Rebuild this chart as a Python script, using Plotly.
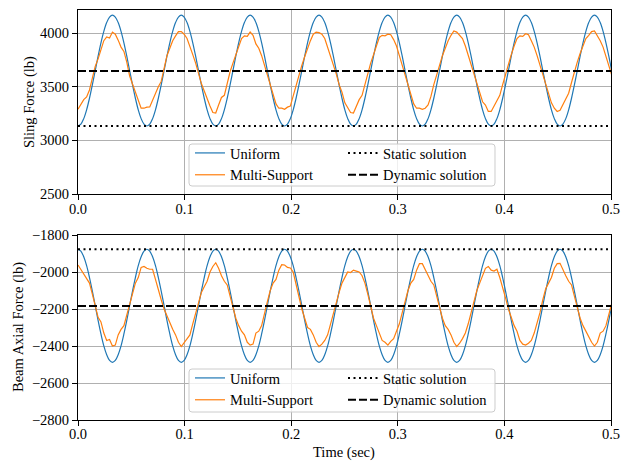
import plotly.graph_objects as go

# ---------------- data ----------------
sample_interval = 0.00269167          # sec between samples (24 samples per 0.0646 s cycle)
time_range = [0.0, 0.5]

static_sling = 3134
dynamic_sling = 3646
static_axial = -1877
dynamic_axial = -2184

sling_uniform = [
    3134, 3152, 3203, 3285, 3393, 3517, 3651, 3785, 3910, 4017, 4099, 4150, 4168, 4150, 4099, 4017, 3910, 3785, 3651, 3517, 3393, 3285, 3203, 3152,
    3134, 3152, 3203, 3285, 3393, 3517, 3651, 3785, 3910, 4017, 4099, 4150, 4168, 4150, 4099, 4017, 3910, 3785, 3651, 3517, 3393, 3285, 3203, 3152,
    3134, 3152, 3203, 3285, 3393, 3517, 3651, 3785, 3910, 4017, 4099, 4150, 4168, 4150, 4099, 4017, 3910, 3785, 3651, 3517, 3393, 3285, 3203, 3152,
    3134, 3152, 3203, 3285, 3393, 3517, 3651, 3785, 3910, 4017, 4099, 4150, 4168, 4150, 4099, 4017, 3910, 3785, 3651, 3517, 3393, 3285, 3203, 3152,
    3134, 3152, 3203, 3285, 3393, 3517, 3651, 3785, 3910, 4017, 4099, 4150, 4168, 4150, 4099, 4017, 3910, 3785, 3651, 3517, 3393, 3285, 3203, 3152,
    3134, 3152, 3203, 3285, 3393, 3517, 3651, 3785, 3910, 4017, 4099, 4150, 4168, 4150, 4099, 4017, 3910, 3785, 3651, 3517, 3393, 3285, 3203, 3152,
    3134, 3152, 3203, 3285, 3393, 3517, 3651, 3785, 3910, 4017, 4099, 4150, 4168, 4150, 4099, 4017, 3910, 3785, 3651, 3517, 3393, 3285, 3203, 3152,
    3134, 3152, 3203, 3285, 3393, 3517, 3651, 3785, 3910, 4017, 4099, 4150, 4168, 4150, 4099, 4017, 3910, 3785, 3651,
]

sling_multi = [
    3290, 3340, 3380, 3405, 3470, 3580, 3690, 3760, 3850, 3930, 3965, 3955, 4010, 3990, 3935, 3870, 3830, 3730, 3600, 3520, 3460, 3380, 3300, 3300,
    3310, 3312, 3380, 3450, 3500, 3550, 3680, 3790, 3860, 3930, 3975, 4015, 4015, 3990, 3950, 3880, 3800, 3720, 3620, 3530, 3460, 3380, 3320, 3260,
    3255, 3330, 3400, 3420, 3530, 3640, 3720, 3800, 3880, 3950, 3975, 3970, 4010, 3980, 3900, 3860, 3790, 3700, 3610, 3520, 3410, 3340, 3300, 3300,
    3290, 3310, 3320, 3420, 3520, 3620, 3700, 3780, 3860, 3930, 3990, 4010, 4005, 3990, 3950, 3870, 3780, 3700, 3620, 3520, 3450, 3350, 3300, 3260,
    3255, 3320, 3380, 3420, 3520, 3630, 3720, 3800, 3880, 3960, 3980, 3975, 3990, 3985, 3940, 3880, 3790, 3700, 3600, 3520, 3440, 3340, 3300, 3300,
    3290, 3300, 3330, 3410, 3520, 3620, 3700, 3790, 3870, 3930, 3980, 4020, 4010, 3980, 3950, 3880, 3790, 3700, 3620, 3520, 3440, 3360, 3330, 3270,
    3270, 3320, 3380, 3420, 3520, 3620, 3710, 3800, 3880, 3950, 3975, 3970, 3995, 3985, 3930, 3870, 3790, 3700, 3610, 3520, 3430, 3350, 3300, 3270,
    3280, 3330, 3380, 3440, 3540, 3640, 3730, 3810, 3880, 3950, 3980, 4015, 4020, 3980, 3930, 3870, 3790, 3690, 3610,
]

axial_uniform = [
    -1877, -1887, -1918, -1966, -2030, -2103, -2182, -2262, -2335, -2399, -2447, -2478, -2488, -2478, -2447, -2399, -2335, -2262, -2182, -2103, -2030, -1966, -1918, -1887,
    -1877, -1887, -1918, -1966, -2030, -2103, -2182, -2262, -2335, -2399, -2447, -2478, -2488, -2478, -2447, -2399, -2335, -2262, -2182, -2103, -2030, -1966, -1918, -1887,
    -1877, -1887, -1918, -1966, -2030, -2103, -2182, -2262, -2335, -2399, -2447, -2478, -2488, -2478, -2447, -2399, -2335, -2262, -2182, -2103, -2030, -1966, -1918, -1887,
    -1877, -1887, -1918, -1966, -2030, -2103, -2182, -2262, -2335, -2399, -2447, -2478, -2488, -2478, -2447, -2399, -2335, -2262, -2182, -2103, -2030, -1966, -1918, -1887,
    -1877, -1887, -1918, -1966, -2030, -2103, -2182, -2262, -2335, -2399, -2447, -2478, -2488, -2478, -2447, -2399, -2335, -2262, -2182, -2103, -2030, -1966, -1918, -1887,
    -1877, -1887, -1918, -1966, -2030, -2103, -2182, -2262, -2335, -2399, -2447, -2478, -2488, -2478, -2447, -2399, -2335, -2262, -2182, -2103, -2030, -1966, -1918, -1887,
    -1877, -1887, -1918, -1966, -2030, -2103, -2182, -2262, -2335, -2399, -2447, -2478, -2488, -2478, -2447, -2399, -2335, -2262, -2182, -2103, -2030, -1966, -1918, -1887,
    -1877, -1887, -1918, -1966, -2030, -2103, -2182, -2262, -2335, -2399, -2447, -2478, -2488, -2478, -2447, -2399, -2335, -2262, -2182,
]

axial_multi = [
    -1962, -1985, -2010, -2035, -2060, -2120, -2190, -2245, -2270, -2330, -2370, -2365, -2400, -2395, -2340, -2310, -2290, -2230, -2184, -2110, -2060, -2030, -1975, -1970,
    -1980, -1985, -1985, -2040, -2100, -2150, -2200, -2240, -2280, -2310, -2340, -2380, -2403, -2380, -2360, -2340, -2280, -2220, -2160, -2110, -2080, -2050, -2000, -1970,
    -1950, -1980, -2020, -2050, -2070, -2130, -2190, -2250, -2290, -2320, -2340, -2380, -2395, -2390, -2330, -2320, -2290, -2220, -2160, -2100, -2060, -2040, -1990, -1960,
    -1962, -1975, -1978, -2000, -2070, -2130, -2200, -2250, -2300, -2310, -2340, -2380, -2403, -2390, -2370, -2340, -2280, -2220, -2170, -2110, -2060, -2030, -2000, -2003,
    -1990, -1995, -2000, -2020, -2060, -2120, -2190, -2250, -2290, -2330, -2370, -2380, -2395, -2375, -2360, -2320, -2280, -2220, -2160, -2100, -2060, -2040, -1990, -1955,
    -1955, -1985, -2020, -2050, -2070, -2130, -2190, -2250, -2290, -2310, -2340, -2380, -2403, -2385, -2360, -2330, -2280, -2220, -2160, -2100, -2060, -2020, -1980, -1970,
    -1990, -1995, -1985, -2030, -2080, -2140, -2200, -2250, -2290, -2320, -2370, -2390, -2395, -2385, -2370, -2330, -2280, -2220, -2150, -2090, -2060, -2030, -1980, -1955,
    -1953, -1990, -2020, -2050, -2070, -2130, -2190, -2250, -2290, -2320, -2350, -2380, -2400, -2380, -2330, -2320, -2290, -2230, -2170,
]

x_ticks = [0.0, 0.1, 0.2, 0.3, 0.4, 0.5]
sling_ticks = [2500, 3000, 3500, 4000]
axial_ticks = [-2800, -2600, -2400, -2200, -2000, -1800]
sling_range = [2500, 4216]
axial_range = [-2800, -1800]

# ---------------- styling ----------------
W, H = 630, 470
ML, MR, MT, MB = 78, 19, 10, 50
PW, PH = W - ML - MR, H - MT - MB
BLUE, ORANGE = "#1f77b4", "#ff7f0e"
FONT = "Liberation Serif"
FS = 14.5


def px_to_paper(px, py):
    return (px - ML) / PW, (H - MB - py) / PH


def wave(y, color, name, xa, ya, legend, shape):
    return go.Scatter(x0=time_range[0], dx=sample_interval, y=y, mode="lines",
                      line=dict(color=color, width=1.2, shape=shape),
                      name=name, xaxis=xa, yaxis=ya, legend=legend)


def hline(val, dash, name, xa, ya, legend):
    return go.Scatter(x=time_range, y=[val, val], mode="lines",
                      line=dict(color="black", width=2, dash=dash),
                      name=name, xaxis=xa, yaxis=ya, legend=legend)


DOT = "2px,3.5px"
DASH = "8px,3px"

traces = [
    wave(sling_uniform, BLUE, "Uniform", "x", "y", "legend", "spline"),
    wave(sling_multi, ORANGE, "Multi-Support", "x", "y", "legend", "linear"),
    hline(static_sling, DOT, "Static solution", "x", "y", "legend2"),
    hline(dynamic_sling, DASH, "Dynamic solution", "x", "y", "legend2"),
    wave(axial_uniform, BLUE, "Uniform", "x2", "y2", "legend3", "spline"),
    wave(axial_multi, ORANGE, "Multi-Support", "x2", "y2", "legend3", "linear"),
    hline(static_axial, DOT, "Static solution", "x2", "y2", "legend4"),
    hline(dynamic_axial, DASH, "Dynamic solution", "x2", "y2", "legend4"),
]

fig = go.Figure(traces)

axis_common = dict(showline=True, linecolor="black", linewidth=1, mirror=True,
                   ticks="outside", ticklen=5, tickwidth=1, tickcolor="black",
                   showgrid=True, gridcolor="#b0b0b0", gridwidth=1, zeroline=False,
                   automargin=False,
                   tickfont=dict(family=FONT, size=FS, color="black"))

top_bottom_px = 194
bot_top_px = 235
top_domain = [(H - MB - top_bottom_px) / PH, 1.0]
bot_domain = [0.0, (H - MB - bot_top_px) / PH]

fig.update_layout(
    width=W, height=H, margin=dict(l=ML, r=MR, t=MT, b=MB, autoexpand=False),
    paper_bgcolor="white", plot_bgcolor="white",
    font=dict(family=FONT, size=FS, color="black"),
    xaxis=dict(domain=[0, 1], anchor="y", range=time_range, tickvals=x_ticks,
               tickformat=".1f", ticklabelstandoff=-3, **axis_common),
    yaxis=dict(domain=top_domain, anchor="x", range=sling_range, tickvals=sling_ticks,
               **axis_common),
    xaxis2=dict(domain=[0, 1], anchor="y2", range=time_range, tickvals=x_ticks,
                tickformat=".1f", ticklabelstandoff=-4, **axis_common),
    yaxis2=dict(domain=bot_domain, anchor="x2", range=axial_range, tickvals=axial_ticks,
                **axis_common),
    showlegend=True,
)


def fig_ann(text, px, py, angle):
    x, y = px_to_paper(px, py)
    return dict(text=text, x=x, y=y, xref="paper", yref="paper",
                xanchor="center", yanchor="middle", showarrow=False, textangle=angle,
                font=dict(family=FONT, size=FS, color="black"))


fig.update_layout(annotations=[
    fig_ann("Sling Force (lb)", 30, 102, -90),
    fig_ann("Beam Axial Force (lb)", 18, 327, -90),
    fig_ann("Time (sec)", 344, 452, 0),
])


# legend frames (semi-transparent white, light grey edge, rounded corners)
def rounded_box(x0, y0, x1, y1, r):
    def P(px, py):
        a, b = px_to_paper(px, py)
        return f"{a:.5f},{b:.5f}"
    path = (f"M {P(x0 + r, y0)} L {P(x1 - r, y0)} Q {P(x1, y0)} {P(x1, y0 + r)} "
            f"L {P(x1, y1 - r)} Q {P(x1, y1)} {P(x1 - r, y1)} "
            f"L {P(x0 + r, y1)} Q {P(x0, y1)} {P(x0, y1 - r)} "
            f"L {P(x0, y0 + r)} Q {P(x0, y0)} {P(x0 + r, y0)} Z")
    return dict(type="path", path=path, xref="paper", yref="paper",
                fillcolor="rgba(255,255,255,0.8)", line=dict(color="#cccccc", width=1),
                layer="above")


boxes = [(189, 144, 495, 186), (189, 369, 495, 412)]
fig.update_layout(shapes=[rounded_box(*b, 3) for b in boxes])

legend_font = dict(family=FONT, size=FS, color="black")


def leg(px, py_center):
    x, y = px_to_paper(px, py_center)
    return dict(x=x, y=y, xanchor="left", yanchor="middle", xref="paper", yref="paper",
                bgcolor="rgba(0,0,0,0)", borderwidth=0, font=legend_font,
                tracegroupgap=0, itemclick=False, itemdoubleclick=False)


fig.update_layout(
    legend=leg(190, 164),
    legend2=leg(343, 164),
    legend3=leg(190, 389),
    legend4=leg(343, 389),
)

fig.write_html("out.html")
